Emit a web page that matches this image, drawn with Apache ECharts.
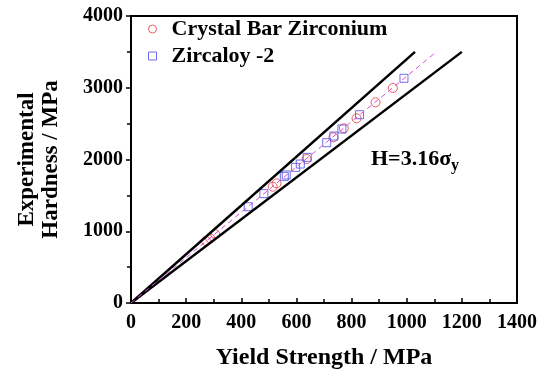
<!DOCTYPE html>
<html><head><meta charset="utf-8">
<script src="https://cdn.jsdelivr.net/npm/echarts@6/dist/echarts.min.js"></script>
<style>html,body{margin:0;padding:0;background:#fff}#c{width:540px;height:373px}</style>
</head><body><div id="c"></div>
<script>
const crystalX = [272, 287, 305, 514, 528, 637, 734, 772, 818, 887, 950];
const crystalY = [864, 901, 961, 1621, 1668, 2007, 2309, 2435, 2574, 2797, 2997];
const zircX = [425, 482, 556, 563, 597, 614, 639, 710, 736, 765, 829, 990];
const zircY = [1342, 1524, 1765, 1785, 1891, 1937, 2030, 2234, 2327, 2425, 2624, 3132];
const upperLineX = [0, 1030];
const upperLineY = [0, 3500];
const lowerLineX = [0, 1200];
const lowerLineY = [0, 3500];
const fitLineX = [0, 1110];
const fitLineY = [0, 3508];
const xTicks = [0, 1400, 200];
const yTicks = [0, 4000, 1000];

const font = 'Liberation Serif';
const zip = (a, b) => a.map((v, i) => [v, b[i]]);
const chart = echarts.init(document.getElementById('c'));
const lbl = { fontFamily: font, fontWeight: 700, fontSize: 20, color: '#000' };
chart.setOption({
  animation: false,
  grid: { left: 131, right: 23, top: 16, bottom: 70, show: true, borderColor: '#000', borderWidth: 2, outerBoundsMode: 'none', containLabel: false },
  legend: {
    left: 143, top: 13, orient: 'vertical', itemGap: 5, itemWidth: 8, itemHeight: 8,
    textStyle: { fontFamily: font, fontWeight: 700, fontSize: 22, lineHeight: 22, color: '#000', padding: [0, 0, 0, 10] },
    data: [
      { name: 'Crystal Bar Zirconium', icon: 'circle', itemStyle: { color: '#fff', borderColor: '#e8383c', borderWidth: 1 } },
      { name: 'Zircaloy -2', icon: 'rect', itemStyle: { color: '#fff', borderColor: '#4a4ae8', borderWidth: 1 } }
    ]
  },
  xAxis: {
    type: 'value', min: xTicks[0], max: xTicks[1], interval: xTicks[2],
    name: 'Yield Strength / MPa', nameLocation: 'middle', nameGap: 43,
    nameTextStyle: { fontFamily: font, fontWeight: 700, fontSize: 24, color: '#000' },
    axisLine: { lineStyle: { color: '#000', width: 2 } },
    axisTick: { inside: true, length: 5, lineStyle: { color: '#000', width: 1.5 } },
    minorTick: { show: true, splitNumber: 2, length: 4, lineStyle: { color: '#000', width: 1.5 } },
    axisLabel: Object.assign({ margin: 10, formatter: v => String(v) }, lbl),
    splitLine: { show: false }
  },
  yAxis: {
    type: 'value', min: yTicks[0], max: yTicks[1], interval: yTicks[2],
    name: 'Experimental\nHardness / MPa', nameLocation: 'middle', nameGap: 68, nameRotate: 90,
    nameTextStyle: { fontFamily: font, fontWeight: 700, fontSize: 23, color: '#000', lineHeight: 24 },
    axisLine: { lineStyle: { color: '#000', width: 2 } },
    axisTick: { inside: false, length: 5, lineStyle: { color: '#000', width: 1.5 } },
    minorTick: { show: true, splitNumber: 2, length: 4, lineStyle: { color: '#000', width: 1.5 } },
    axisLabel: Object.assign({ margin: 8, formatter: v => String(v) }, lbl),
    splitLine: { show: false }
  },
  graphic: [{
    type: 'text', left: 371, top: 148,
    style: {
      text: 'H=3.16σ{s|y}',
      font: 'bold 22px "Liberation Serif"', fill: '#000',
      rich: { s: { fontFamily: font, fontWeight: 700, fontSize: 16, fill: '#000', padding: [13, 0, 0, 0] } }
    }
  }],
  series: [
    { type: 'line', data: zip(upperLineX, upperLineY), symbol: 'none', lineStyle: { color: '#000', width: 2.5 }, silent: true },
    { type: 'line', data: zip(lowerLineX, lowerLineY), symbol: 'none', lineStyle: { color: '#000', width: 2.5 }, silent: true },
    { type: 'line', data: zip(fitLineX, fitLineY), symbol: 'none', lineStyle: { color: '#d84ad8', width: 1, type: [5, 4] }, silent: true },
    { name: 'Crystal Bar Zirconium', type: 'scatter', data: zip(crystalX, crystalY), symbol: 'circle', symbolSize: 9,
      itemStyle: { color: 'rgba(255,255,255,0)', borderColor: '#e8383c', borderWidth: 1 } },
    { name: 'Zircaloy -2', type: 'scatter', data: zip(zircX, zircY), symbol: 'rect', symbolSize: 8,
      itemStyle: { color: 'rgba(255,255,255,0)', borderColor: '#4a4ae8', borderWidth: 1 } }
  ]
});
</script></body></html>
